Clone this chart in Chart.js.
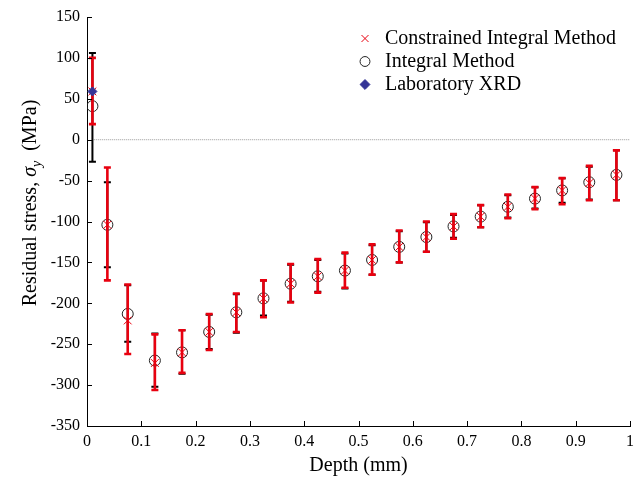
<!DOCTYPE html>
<html>
<head>
<meta charset="utf-8">
<title>Residual stress vs depth</title>
<script src="https://cdn.jsdelivr.net/npm/chart.js@4.4.0/dist/chart.umd.min.js"></script>
<style>
  html, body { margin: 0; padding: 0; background: #fff; }
  #wrap { width: 640px; height: 479px; }
</style>
</head>
<body>
<div id="wrap"><canvas id="chart"></canvas></div>
<script>
// depth of each hole-drilling step (mm)
const depth = [0.01, 0.0375, 0.075, 0.125, 0.175, 0.225, 0.275, 0.325, 0.375, 0.425, 0.475,
  0.525, 0.575, 0.625, 0.675, 0.725, 0.775, 0.825, 0.875, 0.925, 0.975];

// constrained integral method (red x) + error bars
const cimStress = [59, -104, -221, -273, -260, -235, -211, -194, -176, -167, -160,
  -147, -131, -119, -106, -94, -82, -72, -62, -53, -43];
const cimLow = [19, -172, -262, -306, -285, -257, -235, -217, -199, -187, -181,
  -165, -150, -137, -121, -107, -96, -85, -79, -74, -74];
const cimHigh = [100, -34, -177, -238, -233, -213, -188, -172, -152, -146, -138,
  -128, -111, -100, -91, -80, -67, -58, -47, -32, -13];

// integral method (black circles) + error bars
const imStress = [41, -104, -213, -270, -260, -235, -211, -194, -176, -167, -160,
  -147, -131, -119, -106, -94, -82, -72, -62, -52, -43];
const imLow = [-27, -156, -247, -302, -286, -256, -236, -215, -198, -186, -182,
  -165, -150, -137, -120, -107, -95, -84, -77, -73, -74];
const imHigh = [106, -52, -178, -237, -233, -214, -189, -172, -153, -147, -139,
  -129, -112, -101, -92, -80, -68, -58, -47, -33, -13];

// laboratory XRD
const xrdDepth = [0.01];
const xrdStress = [59];

// dotted zero line
const zeroLineX = [0.0125, 1];
const zeroLineY = [0, 0];

// tick labels
const xTicks = [0, 0.1, 0.2, 0.3, 0.4, 0.5, 0.6, 0.7, 0.8, 0.9, 1];
const yTicks = [-350, -300, -250, -200, -150, -100, -50, 0, 50, 100, 150];

const serif = "'Liberation Serif', 'Times New Roman', serif";
const red = '#e8000f';

function toPoints(xs, ys) {
  const pts = [];
  for (let i = 0; i < xs.length; i++) {
    pts.push({ x: xs[i], y: ys[i] });
  }
  return pts;
}

// error bars, drawn just before their own dataset
const errorBars = {
  id: 'errorBars',
  beforeDatasetDraw(chart, args) {
    let low, high, color, width;
    if (args.index === 0) { low = cimLow; high = cimHigh; color = red; width = 2.6; }
    else if (args.index === 1) { low = imLow; high = imHigh; color = '#000'; width = 2; }
    else return;
    const xs = chart.scales.x;
    const ys = chart.scales.y;
    const ctx = chart.ctx;
    ctx.save();
    ctx.strokeStyle = color;
    ctx.lineWidth = width;
    for (let i = 0; i < depth.length; i++) {
      const px = xs.getPixelForValue(depth[i]);
      const y1 = ys.getPixelForValue(low[i]);
      const y2 = ys.getPixelForValue(high[i]);
      ctx.beginPath();
      ctx.moveTo(px, y1);
      ctx.lineTo(px, y2);
      ctx.moveTo(px - 3.5, y1);
      ctx.lineTo(px + 3.5, y1);
      ctx.moveTo(px - 3.5, y2);
      ctx.lineTo(px + 3.5, y2);
      ctx.stroke();
    }
    ctx.restore();
  }
};

// inward tick marks + y axis title with sigma_y
const axisExtras = {
  id: 'axisExtras',
  afterLayout(chart) {
    // move the legend to the top right corner of the plot
    const lg = chart.legend;
    const w = lg.width, h = lg.height;
    lg.left = 352; lg.right = lg.left + w;
    lg.top = 25.5; lg.bottom = lg.top + h;
  },
  afterDraw(chart) {
    const ctx = chart.ctx;
    const xs = chart.scales.x;
    const ys = chart.scales.y;
    const area = chart.chartArea;
    ctx.save();
    ctx.strokeStyle = '#000';
    ctx.lineWidth = 1;
    ctx.beginPath();
    xs.ticks.forEach(t => {
      const px = Math.round(xs.getPixelForValue(t.value)) + 0.5;
      ctx.moveTo(px, area.bottom);
      ctx.lineTo(px, area.bottom - 5);
    });
    ys.ticks.forEach(t => {
      const py = Math.round(ys.getPixelForValue(t.value)) + 0.5;
      ctx.moveTo(area.left, py);
      ctx.lineTo(area.left + 5, py);
    });
    ctx.stroke();

    // y title
    const parts = [
      { text: 'Residual stress, ', font: '20px ' + serif, dy: 0 },
      { text: 'σ', font: 'italic 20px ' + serif, dy: 0 },
      { text: 'y', font: 'italic 14px ' + serif, dy: 5 },
      { text: '  (MPa)', font: '20px ' + serif, dy: 0 }
    ];
    let total = 0;
    parts.forEach(p => { ctx.font = p.font; p.w = ctx.measureText(p.text).width; total += p.w; });
    ctx.translate(36, 203);
    ctx.rotate(-Math.PI / 2);
    ctx.fillStyle = '#000';
    ctx.textBaseline = 'alphabetic';
    ctx.textAlign = 'left';
    let cx = -total / 2;
    parts.forEach(p => {
      ctx.font = p.font;
      ctx.fillText(p.text, cx, p.dy);
      cx += p.w;
    });
    ctx.restore();
  }
};

new Chart(document.getElementById('chart'), {
  type: 'scatter',
  data: {
    datasets: [
      {
        label: 'Constrained Integral Method',
        data: toPoints(depth, cimStress),
        pointStyle: 'crossRot',
        pointRadius: 5.5,
        borderColor: red,
        backgroundColor: red,
        borderWidth: 1
      },
      {
        label: 'Integral Method',
        data: toPoints(depth, imStress),
        pointStyle: 'circle',
        pointRadius: 5.5,
        borderColor: '#222',
        backgroundColor: 'rgba(0,0,0,0)',
        borderWidth: 1
      },
      {
        label: 'Laboratory XRD',
        data: toPoints(xrdDepth, xrdStress),
        pointStyle: 'rectRot',
        pointRadius: 4.5,
        borderColor: '#353597',
        backgroundColor: '#353597',
        borderWidth: 1,
        order: -1
      },
      {
        label: 'zero',
        type: 'line',
        data: toPoints(zeroLineX, zeroLineY),
        showLine: true,
        pointRadius: 0,
        borderColor: '#9a9a9a',
        borderWidth: 1,
        borderDash: [1, 1]
      }
    ]
  },
  options: {
    responsive: true,
    maintainAspectRatio: false,
    animation: false,
    devicePixelRatio: 1,
    layout: { padding: { top: 17, right: 10, left: 0, bottom: 0 } },
    plugins: {
      tooltip: { enabled: false },
      legend: {
        position: 'chartArea',
        align: 'start',
        labels: {
          usePointStyle: true,
          boxWidth: 20,
          boxHeight: 7,
          padding: 3,
          color: '#000',
          font: { family: serif, size: 20 },
          filter: item => item.text !== 'zero',
          sort: (a, b) => a.datasetIndex - b.datasetIndex
        }
      }
    },
    scales: {
      x: {
        type: 'linear',
        min: 0,
        max: 1,
        afterBuildTicks: scale => { scale.ticks = xTicks.map(v => ({ value: v })); },
        afterFit: scale => { scale.height = 53; },
        ticks: {
          color: '#000',
          padding: 6,
          maxRotation: 0,
          font: { family: serif, size: 16 },
          callback: v => String(Math.round(v * 10) / 10)
        },
        grid: { drawOnChartArea: false, drawTicks: false },
        border: { color: '#000', width: 1 },
        title: {
          display: true,
          text: 'Depth (mm)',
          color: '#000',
          font: { family: serif, size: 20 },
          padding: { top: 0, bottom: 1 }
        }
      },
      y: {
        min: -350,
        max: 150,
        afterBuildTicks: scale => { scale.ticks = yTicks.map(v => ({ value: v })); },
        afterFit: scale => { scale.width = 87; },
        ticks: {
          color: '#000',
          padding: 7,
          font: { family: serif, size: 16 },
          callback: v => String(v)
        },
        grid: { drawOnChartArea: false, drawTicks: false },
        border: { color: '#000', width: 1 }
      }
    }
  },
  plugins: [errorBars, axisExtras]
});
</script>
</body>
</html>
